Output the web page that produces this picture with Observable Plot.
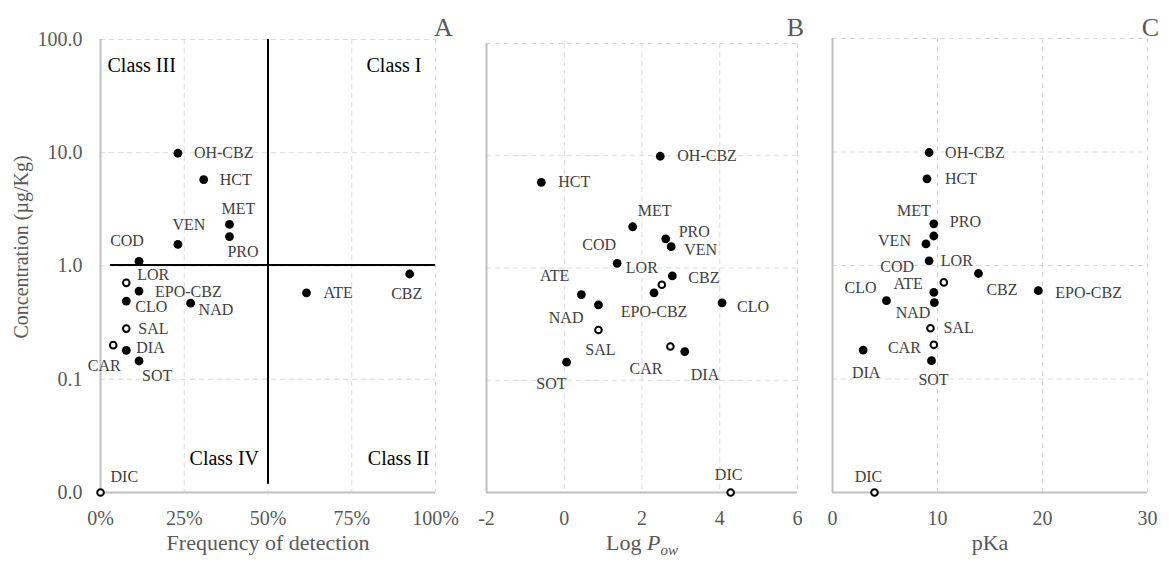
<!DOCTYPE html>
<html><head><meta charset="utf-8">
<script src="https://cdn.jsdelivr.net/npm/d3@7"></script>
<script src="https://cdn.jsdelivr.net/npm/@observablehq/plot@0.6"></script>
<style>
body{margin:0;background:#fff;}
#wrap{position:relative;width:1169px;height:568px;overflow:hidden;font-family:"Liberation Serif","Times New Roman",serif;}
#wrap > div{position:absolute;top:0;}
#wrap svg, #wrap svg text{font-family:"Liberation Serif","Times New Roman",serif !important;}
</style></head>
<body><div id="wrap"><div id="pA" style="left:0"></div><div id="pB" style="left:460px"></div><div id="pC" style="left:805px"></div></div>
<script>
// ---- data ----
const drugs = ["OH-CBZ","HCT","MET","PRO","VEN","COD","LOR","CBZ","EPO-CBZ","ATE","CLO","NAD","SAL","CAR","DIA","SOT","DIC"];
const concentration = [9.9,5.8,2.33,1.82,1.55,1.1,0.71,0.85,0.6,0.58,0.49,0.47,0.28,0.2,0.18,0.145,0.01];
const frequency = [23.1,30.8,38.5,38.5,23.1,11.5,7.7,92.3,11.5,61.5,7.7,26.9,7.7,3.8,7.7,11.5,0];
const logPow = [2.47,-0.59,1.76,2.61,2.75,1.36,2.51,2.78,2.31,0.44,4.06,0.88,0.88,2.73,3.10,0.06,4.28];
const pKa = [9.2,9.0,9.65,9.65,8.9,9.2,10.6,13.9,19.6,9.65,5.14,9.7,9.33,9.65,2.92,9.43,4.0];
const openMarker = ["LOR","SAL","CAR","DIC"];
const concTicks = [0.01,0.1,1,10,100];
const freqTicks = [0,25,50,75,100];
const logPowTicks = [-2,0,2,4,6];
const pKaTicks = [0,10,20,30];
const detectionThreshold = [50];
const detectionLineExtent = [0.0118, 100];
const concentrationThreshold = [1.02];
const concentrationLineExtent = [3, 100];
const classLabels = ["Class III","Class I","Class IV","Class II"];

// ---- label layout (offsets in px: anchor, dx, dy) ----
const layoutA = {"OH-CBZ":["start",16,0],"HCT":["start",16,0],"MET":["middle",9,-16],"PRO":["start",-2,15],"VEN":["middle",11,-20],"COD":["middle",-12,-20],"LOR":["start",11,-8],"EPO-CBZ":["start",16,1],"CLO":["start",9,6],"NAD":["start",8,7],"ATE":["start",17,0],"CBZ":["middle",-3,20],"SAL":["start",12,0],"CAR":["middle",-9,21],"DIA":["start",10,-2],"SOT":["start",3,15],"DIC":["start",10,-16]};
const layoutB = {"OH-CBZ":["start",17,0],"HCT":["start",17,0],"MET":["start",5,-16],"PRO":["start",13,-7],"VEN":["start",13,3],"COD":["end",-1,-18],"LOR":["end",-4,-17],"CBZ":["start",16,2],"ATE":["end",-12,-19],"EPO-CBZ":["middle",0,19],"NAD":["end",-15,13],"CLO":["start",15,4],"SAL":["middle",2,20],"CAR":["end",-8,22],"DIA":["start",6,23],"SOT":["end",0,22],"DIC":["middle",-2,-18]};
const layoutC = {"OH-CBZ":["start",16,0],"HCT":["start",18,0],"MET":["end",-3,-13],"PRO":["start",16,-14],"VEN":["end",-15,-3],"COD":["end",-15,6],"LOR":["start",-3,-22],"CBZ":["start",8,16],"EPO-CBZ":["start",17,2],"ATE":["end",-11,-8],"CLO":["end",-10,-13],"NAD":["end",-4,10],"SAL":["start",13,0],"CAR":["end",-13,3],"DIA":["middle",3,23],"SOT":["middle",2,19],"DIC":["middle",-6,-16]};

const rows = drugs.map((name,i)=>({name, conc:concentration[i], freq:frequency[i], logPow:logPow[i], pKa:pKa[i], open:openMarker.includes(name)}));

const FONT = "Liberation Serif";
const gridStyle = {stroke:"#d9d9d9", strokeOpacity:1, strokeDasharray:"5,4", strokeWidth:1};
const axisStyle = {stroke:"#bfbfbf", strokeWidth:2};

function panel(o){
  const marks = [
    Plot.gridX(o.xTicks.slice(1), gridStyle),
    Plot.gridY(concTicks.slice(1), gridStyle),
    Plot.ruleX([o.xTicks[0]], axisStyle),
    Plot.ruleY([concTicks[0]], axisStyle),
    ...(o.extras||[]),
    Plot.dot(rows.filter(d=>!d.open), {x:o.key, y:"conc", r:4.4, fill:"black"}),
    Plot.dot(rows.filter(d=>d.open), {x:o.key, y:"conc", r:3.3, fill:"white", stroke:"black", strokeWidth:2}),
    ...rows.map(d=>{const [a,dx,dy]=o.layout[d.name]; return Plot.text([d],{x:o.key,y:"conc",text:"name",textAnchor:a,dx,dy,fontSize:16,fontFamily:FONT,fill:"#404040"});}),
    Plot.text([o.letter],{text:d=>d,frameAnchor:"top-right",textAnchor:"middle",dx:o.letterDx,dy:o.letterDy,fontSize:26,fontFamily:FONT,fill:"#595959"}),
    Plot.text([o.title],{text:d=>d,frameAnchor:"bottom",textAnchor:"middle",dy:57,fontSize:22,fontFamily:FONT,fill:"#595959"})
  ];
  return Plot.plot({
    width:o.width, height:568, marginLeft:o.ml, marginRight:o.mr, marginTop:o.mt, marginBottom:76,
    style:{fontFamily:FONT, fontSize:"20px", color:"#595959", background:"white", overflow:"visible"},
    x:{domain:[o.xTicks[0], o.xTicks[o.xTicks.length-1]], ticks:o.xTicks, tickFormat:o.fmt, tickSize:0, tickPadding:18, label:null},
    y:{type:"log", domain:[concTicks[0], concTicks[concTicks.length-1]], ticks:concTicks, tickFormat:d=>d.toFixed(1), tickSize:0, tickPadding:18, label:null, axis:o.yAxis?"left":null},
    marks
  });
}

const extrasA = [
  Plot.ruleX(detectionThreshold,{y1:detectionLineExtent[0], y2:detectionLineExtent[1], stroke:"black", strokeWidth:2}),
  Plot.ruleY(concentrationThreshold,{x1:concentrationLineExtent[0], x2:concentrationLineExtent[1], stroke:"black", strokeWidth:2}),
  Plot.text([classLabels[0]],{text:d=>d,frameAnchor:"top-left",textAnchor:"start",dx:7,dy:18,fontSize:20,fontFamily:FONT,fill:"black"}),
  Plot.text([classLabels[1]],{text:d=>d,frameAnchor:"top-right",textAnchor:"end",dx:-14,dy:18,fontSize:20,fontFamily:FONT,fill:"black"}),
  Plot.text([classLabels[2]],{x:()=>detectionThreshold[0],text:d=>d,frameAnchor:"bottom",textAnchor:"end",dx:-9,dy:-28,fontSize:20,fontFamily:FONT,fill:"black"}),
  Plot.text([classLabels[3]],{text:d=>d,frameAnchor:"bottom-right",textAnchor:"end",dx:-6,dy:-28,fontSize:20,fontFamily:FONT,fill:"black"}),
  Plot.text(["Concentration (µg/Kg)"],{text:d=>d,frameAnchor:"left",textAnchor:"middle",rotate:-90,dx:-79,dy:-19,fontSize:20,fontFamily:FONT,fill:"#595959"})
];

document.getElementById("pA").append(panel({key:"freq", xTicks:freqTicks, fmt:d=>d+"%", layout:layoutA, width:460, ml:100, mr:25, mt:39, yAxis:true, extras:extrasA, letter:"A", letterDx:8, letterDy:-22, title:"Frequency of detection"}));
document.getElementById("pB").append(panel({key:"logPow", xTicks:logPowTicks, fmt:d=>String(d), layout:layoutB, width:345, ml:26, mr:8, mt:43, letter:"B", letterDx:-2, letterDy:-26, title:"Log Pow"}));
document.getElementById("pC").append(panel({key:"pKa", xTicks:pKaTicks, fmt:d=>String(d), layout:layoutC, width:364, ml:27, mr:22, mt:38, letter:"C", letterDx:3, letterDy:-21, title:"pKa"}));

// italic P with subscript "ow"
document.querySelectorAll("#pB text").forEach(t=>{
  if(t.textContent==="Log Pow"){
    t.textContent="";
    const ns="http://www.w3.org/2000/svg";
    const a=document.createElementNS(ns,"tspan"); a.textContent="Log "; t.append(a);
    const b=document.createElementNS(ns,"tspan"); b.textContent="P"; b.setAttribute("font-style","italic"); t.append(b);
    const c=document.createElementNS(ns,"tspan"); c.textContent="ow"; c.setAttribute("font-style","italic"); c.setAttribute("font-size","15"); c.setAttribute("dy","5"); t.append(c);
  }
});
</script>
</body></html>
